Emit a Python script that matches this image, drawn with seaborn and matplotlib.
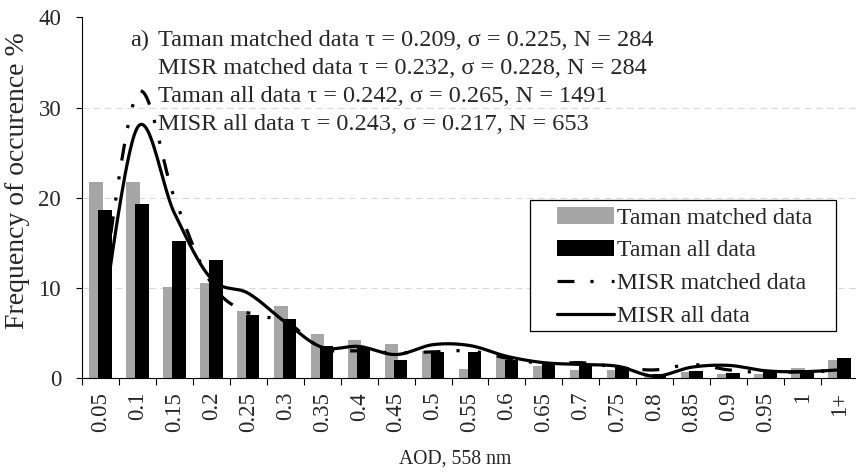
import numpy as np
import pandas as pd
import matplotlib
matplotlib.use("Agg")
import matplotlib.pyplot as plt
import seaborn as sns
from matplotlib.patches import Patch, Rectangle
from matplotlib.lines import Line2D

categories = ["0.05", "0.1", "0.15", "0.2", "0.25", "0.3", "0.35", "0.4", "0.45", "0.5",
              "0.55", "0.6", "0.65", "0.7", "0.75", "0.8", "0.85", "0.9", "0.95", "1", "1+"]
taman_matched = [21.7, 21.7, 10.1, 10.5, 7.4, 8.0, 4.9, 4.2, 3.8, 2.95, 1.0,
                 2.2, 1.3, 0.9, 0.9, 0.3, 0.7, 0.4, 0.4, 1.1, 2.0]
taman_all = [18.6, 19.3, 15.2, 13.1, 7.0, 6.5, 3.5, 3.3, 1.95, 2.85, 2.9,
             2.0, 1.8, 1.5, 1.2, 0.4, 0.8, 0.6, 0.7, 0.75, 2.2]
misr_matched = [8.0, 31.6, 20.0, 10.5, 7.2, 6.3, 3.3, 3.0, 2.8, 2.9, 3.0,
                2.2, 1.6, 1.7, 1.2, 0.9, 1.5, 0.9, 0.6, 0.7, 0.8]
misr_all = [5.0, 27.8, 18.3, 11.0, 9.4, 6.2, 3.4, 3.5, 2.6, 3.7, 3.6,
            2.4, 1.7, 1.5, 1.3, 0.2, 1.2, 1.4, 0.8, 0.7, 0.9]
series_labels = ["Taman matched data", "Taman all data", "MISR matched data", "MISR all data"]
stats_text = ["Taman matched data \u03c4 = 0.209, \u03c3 = 0.225, N = 284",
              "MISR matched data \u03c4 = 0.232, \u03c3 = 0.228, N = 284",
              "Taman all data \u03c4 = 0.242, \u03c3 = 0.265, N = 1491",
              "MISR all data \u03c4 = 0.243, \u03c3 = 0.217, N = 653"]
y_ticks = [0, 10, 20, 30, 40]

sns.set_theme(style="white")
plt.rcParams["font.family"] = ["Liberation Serif", "DejaVu Serif"]

W, H = 856, 472
fig = plt.figure(figsize=(W / 100, H / 100), dpi=100)
ax = fig.add_axes([82 / W, 1 - 378 / H, 776 / W, 360.5 / H])

GRAY = "#A6A6A6"
df = pd.DataFrame({"cat": categories, "tm": taman_matched, "ta": taman_all})
sns.barplot(data=df, x="cat", y="tm", color=GRAY, width=0.365, saturation=1,
            errorbar=None, ax=ax, zorder=2)
n = len(ax.patches)
sns.barplot(data=df, x="cat", y="ta", color="black", width=0.365, saturation=1,
            errorbar=None, ax=ax, zorder=2)
for p in ax.patches[:n]:
    p.set_x(p.get_x() - 0.12)
    p.set_linewidth(0)
for p in ax.patches[n:]:
    p.set_x(p.get_x() + 0.12)
    p.set_linewidth(0)


def smooth(xs, ys, steps=24):
    xs = np.asarray(xs, float)
    ys = np.asarray(ys, float)
    px = np.concatenate([[xs[0]], xs, [xs[-1]]])
    py = np.concatenate([[ys[0]], ys, [ys[-1]]])
    outx, outy = [], []
    t = np.linspace(0, 1, steps)
    for i in range(1, len(px) - 2):
        p0x, p1x, p2x, p3x = px[i - 1], px[i], px[i + 1], px[i + 2]
        p0y, p1y, p2y, p3y = py[i - 1], py[i], py[i + 1], py[i + 2]
        c1x, c1y = p1x + (p2x - p0x) / 6, p1y + (p2y - p0y) / 6
        c2x, c2y = p2x - (p3x - p1x) / 6, p2y - (p3y - p1y) / 6
        bx = (1 - t) ** 3 * p1x + 3 * (1 - t) ** 2 * t * c1x + 3 * (1 - t) * t ** 2 * c2x + t ** 3 * p2x
        by = (1 - t) ** 3 * p1y + 3 * (1 - t) ** 2 * t * c1y + 3 * (1 - t) * t ** 2 * c2y + t ** 3 * p2y
        outx.extend(bx if i == 1 else bx[1:])
        outy.extend(by if i == 1 else by[1:])
    return np.array(outx), np.array(outy)


xi = np.arange(len(categories))
DASH = (0, (5.3, 5, 1, 5.7, 1, 5))
LW = 2.3
sx, sy = smooth(xi, misr_matched)
sns.lineplot(x=sx, y=sy, sort=False, estimator=None, color="black", lw=LW,
             linestyle=DASH, ax=ax, zorder=3)
sx, sy = smooth(xi, misr_all)
sns.lineplot(x=sx, y=sy, sort=False, estimator=None, color="black", lw=LW,
             ax=ax, zorder=3)

ax.set_xlim(-0.5, len(categories) - 0.5)
ax.set_ylim(0, 40)
for v in [10, 20, 30]:
    ax.axhline(v, color="#D9D9D9", lw=0.8, ls=(0, (6, 4)), zorder=0)

ax.set_xticks(np.arange(-0.5, len(categories), 1))
ax.set_xticklabels([])
ax.set_xticks(xi, minor=True)
ax.set_xticklabels(categories, minor=True, rotation=90, fontsize=16.5)
ax.tick_params(axis="x", which="major", length=5, width=0.8, color="black", direction="out", bottom=True)
ax.tick_params(axis="x", which="minor", length=0, pad=10)
ax.set_yticks(y_ticks)
ax.set_yticklabels([str(v) for v in y_ticks], fontsize=16.5)
ax.tick_params(axis="y", length=4, width=0.8, color="black", direction="out", left=True, pad=11)
for s in ["top", "right"]:
    ax.spines[s].set_visible(False)
for s in ["left", "bottom"]:
    ax.spines[s].set_color("black")
    ax.spines[s].set_linewidth(0.8)

ax.set_xlabel("")
ax.set_ylabel("")
fig.text(455 / W, 1 - 459 / H, "AOD, 558 nm", ha="center", va="center", fontsize=14.2)
fig.text(18 / W, 1 - 181 / H, "Frequency of occurence %", ha="center", va="center",
         rotation=90, fontsize=20)

fig.text(130 / W, 1 - 46 / H, "a)", ha="left", va="baseline", fontsize=17.5)
for k, s in enumerate(stats_text):
    fig.text(158 / W, 1 - (46 + 28 * k) / H, s, ha="left", va="baseline", fontsize=17.5)

handles = [Patch(facecolor=GRAY, edgecolor="none"),
           Patch(facecolor="black", edgecolor="none"),
           Line2D([], [], color="black", lw=LW, linestyle=DASH),
           Line2D([], [], color="black", lw=LW)]
frame = Rectangle((530 / W, 1 - 331 / H), 306 / W, 131 / H,
                  transform=fig.transFigure, facecolor="white",
                  edgecolor="black", lw=0.9, zorder=4, clip_on=False)
ax.add_patch(frame)
leg = ax.legend(handles, series_labels, loc="upper left",
                bbox_to_anchor=((557 - 82) / 776, (378 - 207) / 360.5),
                frameon=False, fontsize=17, handlelength=2.4, handletextpad=0.15,
                labelspacing=0.48, borderpad=0, borderaxespad=0)
leg.set_zorder(5)

fig.savefig("out.png", dpi=100)
